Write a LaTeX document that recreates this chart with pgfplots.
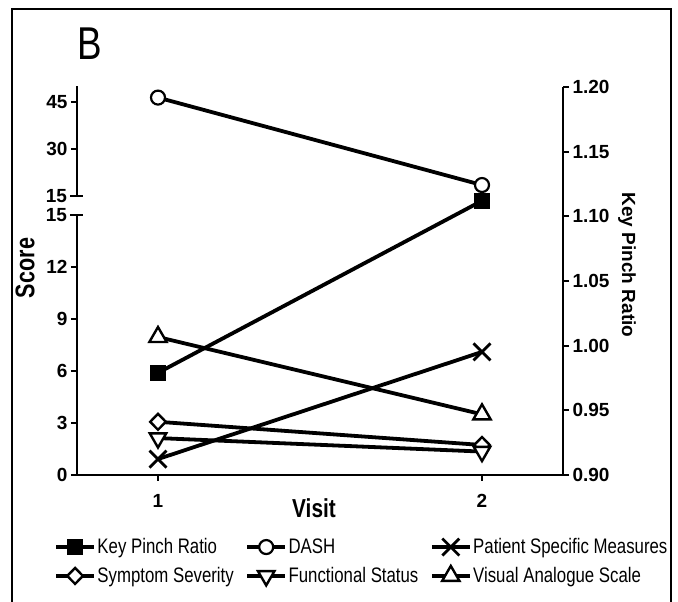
\documentclass[border=0pt]{standalone}
\usepackage{pgfplots}
\pgfplotsset{compat=1.18}
\usepackage{fontspec}
\setmainfont{Liberation Sans}
\newfontfamily\condensed{Liberation Sans}[FakeStretch=0.8]

\newcommand\tickfont{\bfseries\fontsize{19}{21}\selectfont}
\newcommand\legfont{\condensed\fontsize{21}{24}\selectfont}

\pgfplotsset{
  brokenaxis/.style={
    scale only axis, width=486pt, clip=false,
    xmin=0.75, xmax=2.25,
    axis line style={line width=2.8pt, black},
    tick style={line width=2.2pt, black},
    tick align=outside, major tick length=6pt,
    ticklabel style={font=\tickfont},
    /pgf/number format/assume math mode=true,
    every axis plot/.append style={line width=3.8pt, black},
  },
  kpr/.style={mark=square*, mark size=7.5pt, mark options={solid, fill=black, line width=1pt}},
  dash/.style={mark=*, mark size=7pt, mark options={solid, fill=white, line width=2.2pt}},
  psm/.style={mark=x, mark size=12pt, mark options={solid, line width=2.8pt}},
  sev/.style={mark=diamond*, mark size=8pt, mark options={solid, fill=white, line width=2.4pt, xscale=1.3}},
  fun/.style={mark=triangle*, mark size=9.5pt, mark options={solid, fill=white, line width=2.4pt, rotate=180}},
  vas/.style={mark=triangle*, mark size=10pt, mark options={solid, fill=white, line width=2.4pt}},
}

\begin{document}
\begin{tikzpicture}[x=1pt, y=1pt]
\useasboundingbox (0,0) rectangle (678,602);
\draw[line width=1.3pt] (12,0) -- (12,593) -- (671,593) -- (671,0);

% lower part of the broken score axis (0-15)
\begin{axis}[brokenaxis,
  at={(77pt,127pt)}, anchor=south west, height=260pt,
  ymin=0, ymax=15,
  axis x line*=bottom, axis y line*=left,
  xtick={1,2}, ytick={0,3,6,9,12},
  extra y ticks={15},
  extra y tick style={tick align=center, major tick length=13pt},
  xticklabel style={yshift=-10pt},
  legend columns=3,
  legend cell align=left,
  legend image code/.code={\draw[mark repeat=2, mark phase=2, #1] plot coordinates {(0pt,0pt) (19pt,0pt) (38pt,0pt)};},
  legend style={at={(axis description cs:0,0)}, anchor=north west, xshift=-26pt, yshift=-60pt,
    draw=none, fill=none, font=\legfont, row sep=9pt,
    nodes={inner sep=1.5pt},
    /tikz/every even column/.append style={column sep=10pt}},
]
\addlegendimage{line width=3.8pt, black, kpr}
\addlegendentry{Key Pinch Ratio}
\addlegendimage{line width=3.8pt, black, dash}
\addlegendentry{DASH}
\addplot[psm] coordinates {(1,0.92) (2,7.1)};
\addlegendentry{Patient Specific Measures}
\addplot[sev] coordinates {(1,3.07) (2,1.73)};
\addlegendentry{Symptom Severity}
\addplot[fun] coordinates {(1,2.13) (2,1.35)};
\addlegendentry{Functional Status}
\addplot[vas] coordinates {(1,7.96) (2,3.5)};
\addlegendentry{Visual Analogue Scale}
\end{axis}

% upper part of the broken score axis (15-50)
\begin{axis}[brokenaxis,
  at={(77pt,406pt)}, anchor=south west, height=109.7pt,
  ymin=15, ymax=50,
  axis x line=none, axis y line*=left,
  xtick=\empty, ytick={30,45},
  extra y ticks={15},
  extra y tick style={tick align=center, major tick length=13pt},
]
\addplot[dash] coordinates {(1,46.4) (2,18.5)};
\end{axis}

% key pinch ratio on the right
\begin{axis}[brokenaxis,
  at={(77pt,127pt)}, anchor=south west, height=388pt,
  ymin=0.9, ymax=1.2,
  axis x line=none, axis y line*=right,
  xtick=\empty, ytick={0.90,0.95,1.00,1.05,1.10,1.15,1.20},
  yticklabel style={/pgf/number format/.cd, fixed, fixed zerofill, precision=2},
]
\addplot[kpr] coordinates {(1,0.979) (2,1.112)};
\end{axis}

\node[font=\condensed\fontsize{46}{50}\selectfont] at (89.5,558) {B};
\node[rotate=90, font=\condensed\bfseries\fontsize{27}{29}\selectfont] at (25,334) {Score};
\node[rotate=-90, font=\bfseries\fontsize{19}{21}\selectfont] at (627,337) {Key Pinch Ratio};
\node[font=\condensed\bfseries\fontsize{26}{28}\selectfont] at (314,94) {Visit};
\end{tikzpicture}
\end{document}
